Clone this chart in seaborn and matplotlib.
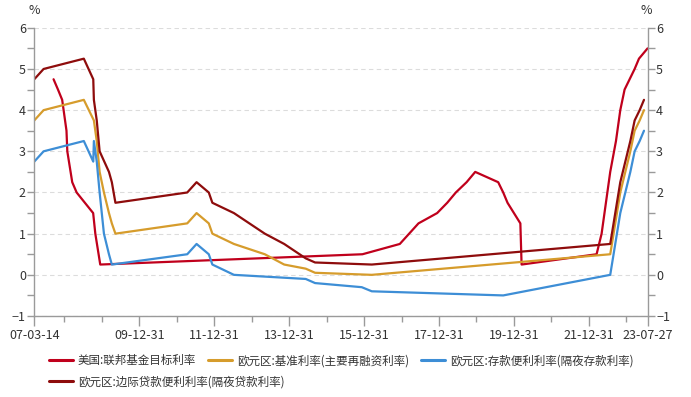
import matplotlib
matplotlib.use('Agg')
import matplotlib.pyplot as plt
import matplotlib.dates as mdates
from matplotlib.lines import Line2D
from matplotlib.ticker import MultipleLocator
import pandas as pd
import seaborn as sns

# ==========================
# DATOS: tasas de interés (%)
# ==========================
# cada serie solo tiene sus propias fechas de cambio

# EE.UU.: tasa objetivo de fondos federales
fechas_fed = ['2007-09-18', '2007-10-31', '2007-12-11', '2008-01-22', '2008-01-30',
              '2008-03-18', '2008-04-30', '2008-10-08', '2008-10-29', '2008-12-16',
              '2015-12-16', '2016-12-14', '2017-03-15', '2017-06-14', '2017-12-13',
              '2018-03-21', '2018-06-13', '2018-09-26', '2018-12-19', '2019-07-31',
              '2019-09-18', '2019-10-30', '2020-03-03', '2020-03-15', '2022-03-16',
              '2022-05-04', '2022-06-15', '2022-07-27', '2022-09-21', '2022-11-02',
              '2022-12-14', '2023-02-01', '2023-03-22', '2023-05-03', '2023-07-26']
tasa_fed = [4.75, 4.50, 4.25, 3.50, 3.00, 2.25, 2.00, 1.50, 1.00, 0.25,
            0.50, 0.75, 1.00, 1.25, 1.50, 1.75, 2.00, 2.25, 2.50, 2.25,
            2.00, 1.75, 1.25, 0.25, 0.50, 1.00, 1.75, 2.50, 3.25, 4.00,
            4.50, 4.75, 5.00, 5.25, 5.50]

# Zona euro: tasa principal de refinanciación
fechas_mro = ['2007-03-14', '2007-06-13', '2008-07-09', '2008-10-15', '2008-11-12',
              '2008-12-10', '2009-01-21', '2009-03-11', '2009-04-08', '2009-05-13',
              '2011-04-13', '2011-07-13', '2011-11-09', '2011-12-14', '2012-07-11',
              '2013-05-08', '2013-11-13', '2014-06-11', '2014-09-10', '2016-03-16',
              '2022-07-27', '2022-09-14', '2022-11-02', '2022-12-21', '2023-02-08',
              '2023-03-22', '2023-05-10', '2023-06-21']
tasa_mro = [3.75, 4.00, 4.25, 3.75, 3.25, 2.50, 2.00, 1.50, 1.25, 1.00,
            1.25, 1.50, 1.25, 1.00, 0.75, 0.50, 0.25, 0.15, 0.05, 0.00,
            0.50, 1.25, 2.00, 2.50, 3.00, 3.50, 3.75, 4.00]

# Zona euro: facilidad de depósito
fechas_deposito = ['2007-03-14', '2007-06-13', '2008-07-09', '2008-10-09', '2008-10-15',
                   '2008-11-12', '2008-12-10', '2009-01-21', '2009-03-11', '2009-04-08',
                   '2011-04-13', '2011-07-13', '2011-11-09', '2011-12-14', '2012-07-11',
                   '2014-06-11', '2014-09-10', '2015-12-09', '2016-03-16', '2019-09-18',
                   '2022-07-27', '2022-09-14', '2022-11-02', '2022-12-21', '2023-02-08',
                   '2023-03-22', '2023-05-10', '2023-06-21']
tasa_deposito = [2.75, 3.00, 3.25, 2.75, 3.25, 2.75, 2.00, 1.00, 0.50, 0.25,
                 0.50, 0.75, 0.50, 0.25, 0.00, -0.10, -0.20, -0.30, -0.40, -0.50,
                 0.00, 0.75, 1.50, 2.00, 2.50, 3.00, 3.25, 3.50]

# Zona euro: facilidad marginal de crédito
fechas_marginal = ['2007-03-14', '2007-06-13', '2008-07-09', '2008-10-09', '2008-10-15',
                   '2008-11-12', '2008-12-10', '2009-03-11', '2009-04-08', '2009-05-13',
                   '2011-04-13', '2011-07-13', '2011-11-09', '2011-12-14', '2012-07-11',
                   '2013-05-08', '2013-11-13', '2014-06-11', '2014-09-10', '2016-03-16',
                   '2022-07-27', '2022-09-14', '2022-11-02', '2022-12-21', '2023-02-08',
                   '2023-03-22', '2023-05-10', '2023-06-21']
tasa_marginal = [4.75, 5.00, 5.25, 4.75, 4.25, 3.75, 3.00, 2.50, 2.25, 1.75,
                 2.00, 2.25, 2.00, 1.75, 1.50, 1.00, 0.75, 0.40, 0.30, 0.25,
                 0.75, 1.50, 2.25, 2.75, 3.25, 3.75, 4.00, 4.25]

nombres = ['美国:联邦基金目标利率',
           '欧元区:基准利率(主要再融资利率)',
           '欧元区:存款便利利率(隔夜存款利率)',
           '欧元区:边际贷款便利利率(隔夜贷款利率)']
colores = ['#C0001C', '#D69C2C', '#3D8ED6', '#8E0C0C']

# eje x
ticks_x = ['2007-03-14', '2009-12-31', '2011-12-31', '2013-12-31', '2015-12-31',
           '2017-12-31', '2019-12-31', '2021-12-31', '2023-07-27']
etiquetas_x = ['07-03-14', '09-12-31', '11-12-31', '13-12-31', '15-12-31',
               '17-12-31', '19-12-31', '21-12-31', '23-07-27']
ticks_menores_x = [f'{a}-12-31' for a in range(2007, 2023)]

# tabla larga para seaborn
partes = []
for nombre, fechas, valores in [(nombres[0], fechas_fed, tasa_fed),
                                (nombres[1], fechas_mro, tasa_mro),
                                (nombres[2], fechas_deposito, tasa_deposito),
                                (nombres[3], fechas_marginal, tasa_marginal)]:
    partes.append(pd.DataFrame({'fecha': pd.to_datetime(fechas),
                                'tasa': valores, 'serie': nombre}))
df = pd.concat(partes, ignore_index=True)

# ==========================
# GRÁFICO
# ==========================
sns.set_style("white")
plt.rcParams['font.family'] = ['Noto Sans CJK SC', 'DejaVu Sans']

fig = plt.figure(figsize=(6.91, 3.97), dpi=100)
ax = fig.add_axes([0.0496, 0.204, 0.8877, 0.726])

sns.lineplot(data=df, x='fecha', y='tasa', hue='serie', hue_order=nombres,
             palette=colores, estimator=None, linewidth=1.6, legend=False, ax=ax)

ax.set_xlim(pd.Timestamp('2007-03-14'), pd.Timestamp('2023-07-27'))
ax.set_ylim(-1, 6)
ax.set_xlabel('')
ax.set_ylabel('')

ax.set_xticks(mdates.date2num(pd.to_datetime(ticks_x)))
ax.set_xticklabels(etiquetas_x)
ax.set_xticks(mdates.date2num(pd.to_datetime(ticks_menores_x)), minor=True)
ax.set_yticks(range(-1, 7))
ax.yaxis.set_minor_locator(MultipleLocator(0.5))

gris = '#9A9A9A'
ax.tick_params(axis='y', which='both', left=True, right=True, labelleft=True,
               labelright=True, direction='out', length=5, width=1, color=gris,
               labelsize=9, labelcolor='#333333', pad=1)
ax.tick_params(axis='x', which='major', bottom=True, direction='out', length=7,
               width=1, color=gris, labelsize=9, labelcolor='#333333', pad=2)
ax.tick_params(axis='x', which='minor', bottom=True, direction='out', length=4,
               width=1, color=gris)

for lado in ['left', 'right', 'bottom']:
    ax.spines[lado].set_color(gris)
    ax.spines[lado].set_linewidth(1)
ax.spines['top'].set_visible(False)

ax.yaxis.grid(True, linestyle=(0, (4, 3)), color='#DCDCDC', linewidth=0.8)
ax.set_axisbelow(True)

fig.text(34 / 691, 1 - 10 / 397, '%', ha='center', va='center', fontsize=9, color='#333333')
fig.text(646 / 691, 1 - 10 / 397, '%', ha='center', va='center', fontsize=9, color='#333333')

# leyenda: tres en la primera fila, una en la segunda
manijas = [Line2D([], [], color=c, linewidth=2.2) for c in colores]
opciones = dict(loc='center left', frameon=False, fontsize=8.3, handlelength=2.05,
                handletextpad=0.45, columnspacing=1.05, borderpad=0, borderaxespad=0,
                labelcolor='#333333')
fig.legend(manijas[:3], nombres[:3], ncol=3,
           bbox_to_anchor=(49 / 691, 1 - 360.7 / 397), **opciones)
fig.legend(manijas[3:], nombres[3:], ncol=1,
           bbox_to_anchor=(49 / 691, 1 - 381.7 / 397), **opciones)

fig.savefig('out.png', dpi=100)
